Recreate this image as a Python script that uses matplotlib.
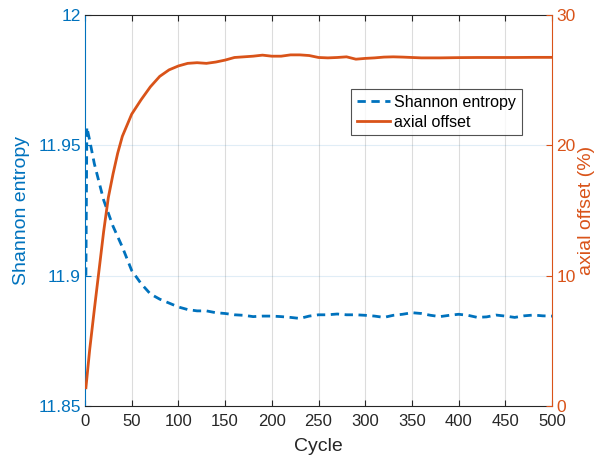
import matplotlib
matplotlib.use("Agg")
import matplotlib.pyplot as plt

plt.rcParams['font.family'] = ['Liberation Sans', 'DejaVu Sans']

# Shannon entropy data
ent_cycles = [1, 2, 5, 10, 15, 20, 25, 30, 40, 50, 60, 70, 80, 90, 100, 110, 120, 130, 140, 150,
              160, 170, 180, 190, 200, 210, 220, 230, 240, 250, 260, 270, 280, 290, 300, 310, 320,
              330, 340, 350, 360, 370, 380, 390, 400, 410, 420, 430, 440, 450, 460, 470, 480, 490, 500]
ent_values = [11.900, 11.957, 11.952, 11.943, 11.936, 11.929, 11.924, 11.919, 11.911, 11.902,
              11.897, 11.893, 11.891, 11.8895, 11.888, 11.887, 11.8865, 11.8865, 11.8858, 11.8855,
              11.885, 11.8848, 11.8843, 11.8845, 11.8845, 11.8843, 11.884, 11.8836, 11.8845, 11.885,
              11.885, 11.8853, 11.885, 11.885, 11.8848, 11.8845, 11.884, 11.8848, 11.8852, 11.8858,
              11.8855, 11.8848, 11.8843, 11.8848, 11.8852, 11.8848, 11.884, 11.8842, 11.8849, 11.8845,
              11.884, 11.8846, 11.8849, 11.8846, 11.8845]

# Axial offset data
ao_cycles = [1, 5, 10, 15, 20, 25, 30, 35, 40, 50, 60, 70, 80, 90, 100, 110, 120, 130, 140, 150,
             160, 170, 180, 190, 200, 210, 220, 230, 240, 250, 260, 270, 280, 290, 300, 310, 320,
             330, 340, 350, 360, 380, 400, 420, 440, 460, 480, 500]
ao_values = [1.4, 4.3, 7.4, 10.4, 13.4, 16.0, 17.8, 19.4, 20.7, 22.4, 23.5, 24.5, 25.3, 25.8, 26.1,
             26.3, 26.35, 26.3, 26.4, 26.55, 26.75, 26.8, 26.85, 26.93, 26.85, 26.85, 26.95, 26.95,
             26.9, 26.75, 26.72, 26.75, 26.8, 26.62, 26.68, 26.72, 26.78, 26.8, 26.78, 26.75, 26.72,
             26.72, 26.74, 26.75, 26.75, 26.75, 26.76, 26.76]

x_ticks = [0, 50, 100, 150, 200, 250, 300, 350, 400, 450, 500]
left_ticks = [11.85, 11.9, 11.95, 12]
left_labels = ['11.85', '11.9', '11.95', '12']
right_ticks = [0, 10, 20, 30]

BLUE = '#0072BD'
ORANGE = '#D95319'
DARK = '#262626'

fig = plt.figure(figsize=(6.04, 4.59), dpi=100)
ax = fig.add_axes([0.1407, 0.1155, 0.7733, 0.8515])
ax2 = ax.twinx()

ax.set_xlim(0, 500)
ax.set_ylim(11.85, 12)
ax2.set_ylim(0, 30)

# grid
for xt in x_ticks[1:-1]:
    ax.axvline(xt, color='#dcdcdc', lw=0.8, zorder=0)
for yt in left_ticks[1:-1]:
    ax.axhline(yt, color=BLUE, alpha=0.12, lw=0.8, zorder=0)

l1, = ax.plot(ent_cycles, ent_values, color=BLUE, lw=2.0, dashes=(3, 2), zorder=3)
l2, = ax2.plot(ao_cycles, ao_values, color=ORANGE, lw=2.0, zorder=3)

ax.set_xticks(x_ticks)
ax.set_xticklabels([str(t) for t in x_ticks])
ax.set_yticks(left_ticks)
ax.set_yticklabels(left_labels)
ax2.set_yticks(right_ticks)

ax.tick_params(axis='x', direction='in', colors=DARK, labelsize=12, length=4, top=True, pad=6)
ax.tick_params(axis='y', direction='in', colors=BLUE, labelsize=12.5, length=4, pad=3)
ax2.tick_params(axis='y', direction='in', colors=ORANGE, labelsize=12.5, length=4, pad=3)

for s in ['top', 'bottom']:
    ax.spines[s].set_color(DARK)
    ax2.spines[s].set_visible(False)
ax.spines['left'].set_color(BLUE)
ax.spines['right'].set_visible(False)
ax2.spines['left'].set_visible(False)
ax2.spines['right'].set_color(ORANGE)
for s in ax.spines.values():
    s.set_linewidth(0.8)
for s in ax2.spines.values():
    s.set_linewidth(0.8)

ax.set_xlabel('Cycle', fontsize=14, color=DARK, labelpad=6)
ax.set_ylabel('Shannon entropy', fontsize=14, color=BLUE, labelpad=6)
ax2.set_ylabel('axial offset (%)', fontsize=14, color=ORANGE, labelpad=2)

leg = ax2.legend([l1, l2], ['Shannon entropy', 'axial offset'], loc='upper left',
                 bbox_to_anchor=(0.57, 0.81), fontsize=11.5, frameon=True, fancybox=False,
                 edgecolor='#262626', handlelength=2.1, handletextpad=0.25, borderpad=0.35,
                 labelspacing=0.3, borderaxespad=0)
leg.get_frame().set_linewidth(0.8)

fig.savefig('out.png', dpi=100)
